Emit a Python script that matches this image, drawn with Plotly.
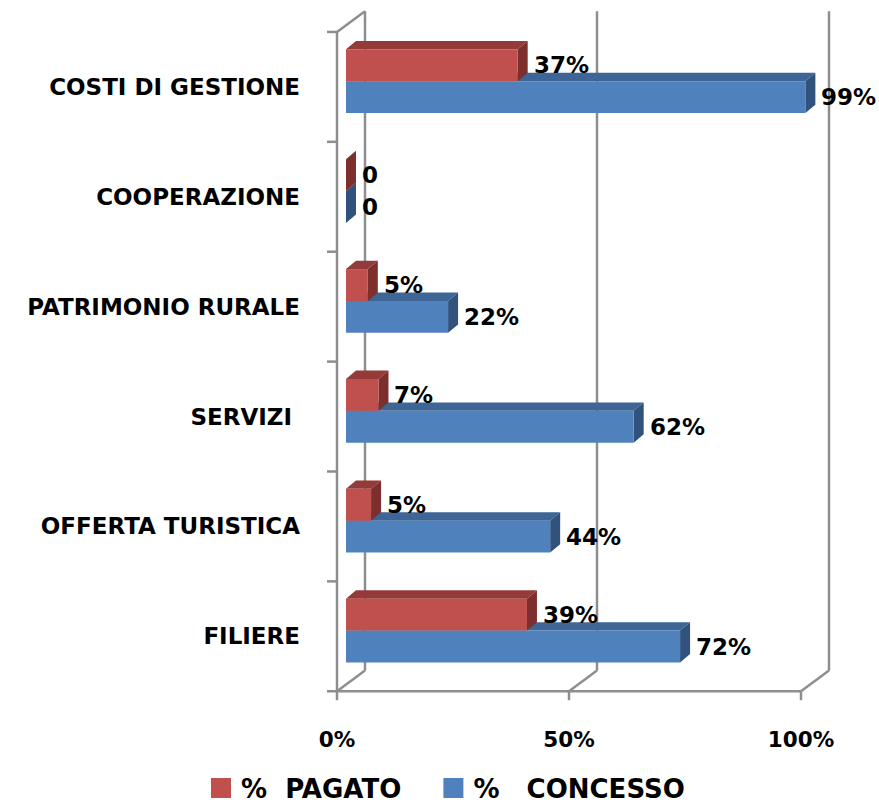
import plotly.graph_objects as go

# ---------------- data ----------------
categories = ["FILIERE", "OFFERTA TURISTICA", "SERVIZI ", "PATRIMONIO RURALE",
              "COOPERAZIONE", "COSTI DI GESTIONE"]
pagato = [0.39, 0.054, 0.07, 0.047, 0.0, 0.37]
concesso = [0.72, 0.44, 0.62, 0.22, 0.0, 0.99]
x_ticks = [0, 0.5, 1]
x_tick_labels = ["0%", "50%", "100%"]
name_pagato = "%\u00a0\u00a0PAGATO\u00a0\u00a0\u00a0"
name_concesso = "%\u00a0\u00a0\u00a0CONCESSO"

# ---------------- style / layout constants ----------------
W, H = 879, 812
FONT = "DejaVu Sans"
RED, RED_TOP, RED_SIDE = "#C0504D", "#943A38", "#7D2F2D"
BLUE, BLUE_TOP, BLUE_SIDE = "#4F81BD", "#3D6596", "#30527C"
GRID = "#8E8E8E"

X0_PX, X1_PX = 346, 810          # pixel of data 0 and 1 (bar front plane)
Y_LO_PX, Y_HI_PX = 699, 32.3     # pixel of category band edges (front plane)
DOM_L, DOM_R, DOM_T, DOM_B = 318, 850, 4, 716
n = len(categories)
px_x = X1_PX - X0_PX
px_y = (Y_LO_PX - Y_HI_PX) / n
x_range = [-(X0_PX - DOM_L) / px_x, 1 + (DOM_R - X1_PX) / px_x]
y_range = [-0.5 - (DOM_B - Y_LO_PX) / px_y, n - 0.5 + (Y_HI_PX - DOM_T) / px_y]


def ux(p):
    return p / px_x


def uy(p):
    return p / px_y


FRONT_DX = ux(-9)     # front floor plane relative to bars
BACK_DX = ux(19)      # back wall relative to bars
BACK_DY = uy(21)
BAR_DX, BAR_DY = ux(10), uy(8.5)
TICK_LEN_X, TICK_LEN_Y = uy(9), ux(10)

BAR_W = 0.29
OFF_BLUE, OFF_RED = -0.238, 0.052

fig = go.Figure()

positions = list(range(n))
fig.add_trace(go.Bar(y=positions, x=concesso, orientation="h", width=BAR_W,
                     offset=OFF_BLUE, marker=dict(color=BLUE, line=dict(width=0)),
                     showlegend=False, hoverinfo="skip"))
fig.add_trace(go.Bar(y=positions, x=pagato, orientation="h", width=BAR_W,
                     offset=OFF_RED, marker=dict(color=RED, line=dict(width=0)),
                     showlegend=False, hoverinfo="skip"))
# legend entries
fig.add_trace(go.Scatter(x=[None], y=[None], mode="markers", name=name_pagato,
                         marker=dict(symbol="square", size=16, color=RED,
                                     line=dict(color=RED, width=4))))
fig.add_trace(go.Scatter(x=[None], y=[None], mode="markers", name=name_concesso,
                         marker=dict(symbol="square", size=16, color=BLUE,
                                     line=dict(color=BLUE, width=4))))

shapes = []
line = dict(color=GRID, width=2.5)
y_bot, y_top = -0.5, n - 0.5
# back wall gridlines
for t in x_ticks:
    shapes.append(dict(type="line", xref="x", yref="y", x0=t + BACK_DX, x1=t + BACK_DX,
                       y0=y_bot + BACK_DY, y1=y_top + BACK_DY, line=line, layer="below"))
# floor: front edge, ticks and diagonals
shapes.append(dict(type="line", xref="x", yref="y", x0=x_ticks[0] + FRONT_DX,
                   x1=x_ticks[-1] + FRONT_DX, y0=y_bot, y1=y_bot, line=line, layer="below"))
for t in x_ticks:
    shapes.append(dict(type="line", xref="x", yref="y", x0=t + FRONT_DX, x1=t + FRONT_DX,
                       y0=y_bot, y1=y_bot - TICK_LEN_X, line=line, layer="below"))
    shapes.append(dict(type="line", xref="x", yref="y", x0=t + FRONT_DX, x1=t + BACK_DX,
                       y0=y_bot, y1=y_bot + BACK_DY, line=line, layer="below"))
# left wall: front axis line, ticks and top diagonal
shapes.append(dict(type="line", xref="x", yref="y", x0=FRONT_DX, x1=FRONT_DX,
                   y0=y_bot, y1=y_top, line=line, layer="below"))
for k in range(n + 1):
    shapes.append(dict(type="line", xref="x", yref="y", x0=FRONT_DX - TICK_LEN_Y, x1=FRONT_DX,
                       y0=k - 0.5, y1=k - 0.5, line=line, layer="below"))
shapes.append(dict(type="line", xref="x", yref="y", x0=FRONT_DX, x1=BACK_DX,
                   y0=y_top, y1=y_top + BACK_DY, line=line, layer="below"))


def faces(vals, off, top_col, side_col):
    out = []
    for i, v in enumerate(vals):
        b = i + off
        t = b + BAR_W
        top = f"M 0,{t} L {v},{t} L {v + BAR_DX},{t + BAR_DY} L {BAR_DX},{t + BAR_DY} Z"
        side = f"M {v},{b} L {v},{t} L {v + BAR_DX},{t + BAR_DY} L {v + BAR_DX},{b + BAR_DY} Z"
        for p, c in ((top, top_col), (side, side_col)):
            out.append(dict(type="path", xref="x", yref="y", path=p, fillcolor=c,
                            line=dict(width=0), layer="below"))
    return out


shapes += faces(concesso, OFF_BLUE, BLUE_TOP, BLUE_SIDE)
shapes += faces(pagato, OFF_RED, RED_TOP, RED_SIDE)

annotations = []
for vals, off in ((pagato, OFF_RED), (concesso, OFF_BLUE)):
    for i, v in enumerate(vals):
        txt = f"{round(v * 100)}%" if v else "0"
        annotations.append(dict(x=v, y=i + off + BAR_W / 2, xref="x", yref="y", text=txt,
                                showarrow=False, xanchor="left", yanchor="middle", xshift=14,
                                font=dict(family=FONT, size=23, color="black", weight="bold")))

fig.update_layout(
    width=W, height=H,
    margin=dict(l=0, r=0, t=0, b=0),
    paper_bgcolor="white", plot_bgcolor="rgba(0,0,0,0)",
    barmode="overlay",
    shapes=shapes, annotations=annotations,
    font=dict(family=FONT, color="black"),
    xaxis=dict(domain=[DOM_L / W, DOM_R / W], range=x_range, showgrid=False, zeroline=False,
               showline=False, ticks="", tickmode="array", tickvals=x_ticks,
               ticktext=x_tick_labels, ticklabelshift=-9, ticklabelstandoff=16,
               tickfont=dict(family=FONT, size=21.5, color="black", weight="bold")),
    yaxis=dict(domain=[1 - DOM_B / H, 1 - DOM_T / H], range=y_range, showgrid=False,
               zeroline=False, showline=False, ticks="", tickmode="array",
               tickvals=positions, ticktext=categories, ticklabelstandoff=17,
               tickfont=dict(family=FONT, size=23, color="black", weight="bold")),
    legend=dict(orientation="h", x=201 / W, xanchor="left", y=1 - 797 / H, yanchor="middle",
                font=dict(family=FONT, size=26, color="black", weight="bold"),
                bgcolor="rgba(0,0,0,0)"),
    showlegend=True,
)

fig.write_html("out.html", config={"displayModeBar": False},
               post_script="document.body.style.margin='0px';")
